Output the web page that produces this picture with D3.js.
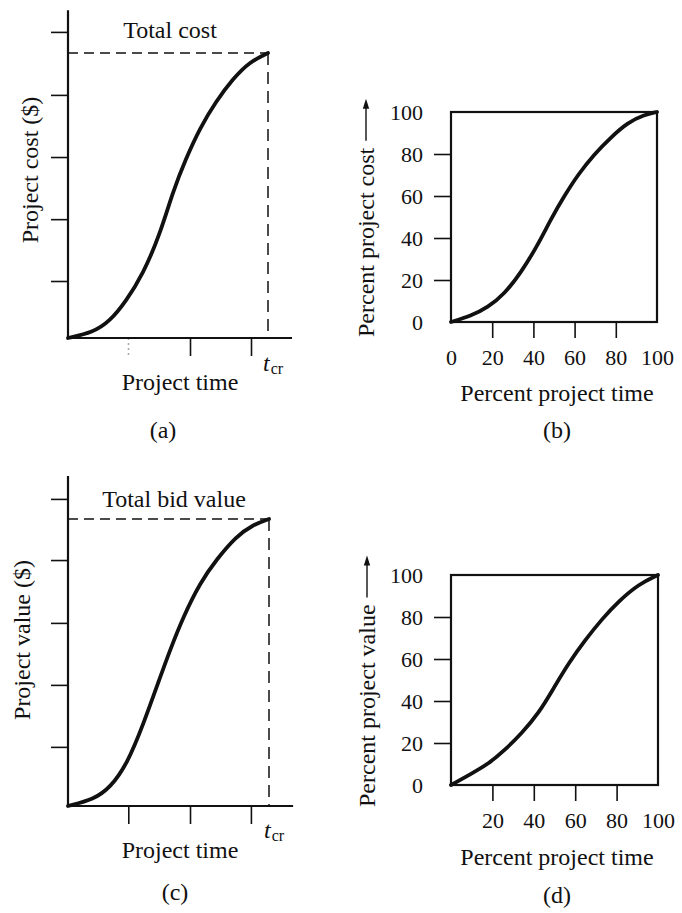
<!DOCTYPE html>
<html>
<head>
<meta charset="utf-8">
<script src="https://cdn.jsdelivr.net/npm/d3@7/dist/d3.min.js"></script>
<style>
  html, body { margin: 0; padding: 0; background: #fff; }
  svg { display: block; }
  text { font-family: 'Liberation Serif', 'Times New Roman', serif; fill: #111; font-size: 24px; }
  .tick text { font-size: 22px; }
</style>
</head>
<body>
<svg id="chart" width="682" height="913"></svg>
<script>
// (a) Cumulative project cost, in % of total cost, against % of completion time t_cr
const timeA = [0, 12.5, 20.8, 29, 37.5, 45.8, 52.5, 59, 66, 74, 82.5, 91, 100];
const costA = [0, 2, 5.8, 12.9, 22.5, 36, 51.5, 63, 73.7, 83, 91, 97, 100];
const costTicksA = [20, 41.7, 63.5, 85.3, 107.4];
const timeTicksA = [30, 61, 91.5];

// (b) Percent project cost against percent project time
const timeB = [0, 9.7, 17.8, 25.9, 34, 42, 48.5, 55, 61.5, 69.6, 77.7, 85.8, 93.9, 100];
const costB = [0, 2.9, 6.9, 13.3, 23.6, 36.4, 49, 60, 70, 80, 88, 95, 98.7, 100];

// (c) Cumulative project value, in % of total bid value, against % of t_cr
const timeC = [0, 12.9, 21, 29.4, 37.6, 45.9, 50.8, 57.4, 65.7, 74, 83.8, 92, 100];
const valueC = [0, 2.3, 6.4, 14.6, 28.7, 45, 54.4, 66, 77.8, 86, 94, 98, 100];
const valueTicksC = [20.6, 42.2, 63.8, 85.7, 107];
const timeTicksC = [30, 60.7, 91];

// (d) Percent project value against percent project time
const timeD = [0, 10, 18, 26, 34, 42.3, 50, 56.8, 64.8, 72.9, 81, 90.6, 100];
const valueD = [0, 5.5, 10, 16.6, 24.5, 34, 46.8, 58, 69, 79, 87.5, 95.6, 100];

// Percent axes
const pctTicksY = [0, 20, 40, 60, 80, 100];
const pctTicksXB = [0, 20, 40, 60, 80, 100];
const pctTicksXD = [20, 40, 60, 80, 100];

const svg = d3.select("#chart");
svg.append("rect").attr("width", 682).attr("height", 913).attr("fill", "#fff");

const INK = "#111";

function curvePath(g, x, y, xs, ys) {
  const line = d3.line().x(d => x(d[0])).y(d => y(d[1])).curve(d3.curveBasis);
  g.append("path")
    .attr("d", line(d3.zip(xs, ys)))
    .attr("fill", "none")
    .attr("stroke", INK)
    .attr("stroke-width", 3.8)
    .attr("stroke-linecap", "round");
}

function cleanAxis(sel) {
  sel.attr("font-size", null).attr("font-family", null);
  sel.select(".domain").remove();
  sel.selectAll(".tick line").attr("stroke", INK).attr("stroke-width", 1.6);
  sel.selectAll(".tick text").attr("fill", INK);
}

// Panels (a) and (c): dollar amount against time, ending at t_cr
function absolutePanel(o) {
  const g = svg.append("g");
  const x = d3.scaleLinear().domain([0, 100]).range(o.xRange);
  const y = d3.scaleLinear().domain([0, 100]).range(o.yRange);

  // y ticks (left of the axis, unlabeled)
  const ya = g.append("g").attr("transform", `translate(${x(0)},0)`)
    .call(d3.axisLeft(y).tickValues(o.yTicks).tickSize(17).tickFormat(""));
  cleanAxis(ya);

  // x ticks (below the axis, unlabeled)
  const xa = g.append("g").attr("transform", `translate(0,${y(0)})`)
    .call(d3.axisBottom(x).tickValues(o.xTicks).tickSize(18).tickFormat(""));
  cleanAxis(xa);
  if (o.faintFirstTick) {
    xa.selectAll(".tick line").filter((d, i) => i === 0)
      .attr("stroke", "#aaa").attr("stroke-dasharray", "2,3");
  }

  // axis lines
  g.append("line").attr("x1", x(0)).attr("x2", x(0)).attr("y1", y(0)).attr("y2", y(o.yMax))
    .attr("stroke", INK).attr("stroke-width", 2.2);
  g.append("line").attr("x1", x(0)).attr("x2", x(o.xMax)).attr("y1", y(0)).attr("y2", y(0))
    .attr("stroke", INK).attr("stroke-width", 2.2);

  // guides to the total and to t_cr
  g.append("line").attr("x1", x(0)).attr("x2", x(100)).attr("y1", y(100)).attr("y2", y(100))
    .attr("stroke", INK).attr("stroke-width", 1.5).attr("stroke-dasharray", "10,6");
  g.append("line").attr("x1", x(100)).attr("x2", x(100)).attr("y1", y(100)).attr("y2", y(0))
    .attr("stroke", INK).attr("stroke-width", 1.5).attr("stroke-dasharray", "12,7");

  curvePath(g, x, y, o.xs, o.ys);

  g.append("text").attr("x", o.totalPos[0]).attr("y", o.totalPos[1])
    .attr("text-anchor", "middle").text(o.totalLabel);

  const t = g.append("text").attr("x", o.tcrPos[0]).attr("y", o.tcrPos[1]);
  t.append("tspan").attr("font-style", "italic").text("t");
  t.append("tspan").attr("font-size", "16px").attr("dy", 3).attr("dx", 1).text("cr");

  g.append("text").attr("x", o.xLabelPos[0]).attr("y", o.xLabelPos[1])
    .attr("text-anchor", "middle").text("Project time");

  g.append("text")
    .attr("transform", `translate(${o.yLabelPos[0]},${o.yLabelPos[1]}) rotate(-90)`)
    .attr("text-anchor", "middle").text(o.yLabel);

  g.append("text").attr("x", o.capPos[0]).attr("y", o.capPos[1])
    .attr("text-anchor", "middle").text(o.caption);
}

// Panels (b) and (d): percent against percent, boxed
function percentPanel(o) {
  const g = svg.append("g");
  const x = d3.scaleLinear().domain([0, 100]).range(o.xRange);
  const y = d3.scaleLinear().domain([0, 100]).range(o.yRange);

  const ya = g.append("g").attr("transform", `translate(${x(0)},0)`)
    .call(d3.axisLeft(y).tickValues(pctTicksY).tickSize(17).tickPadding(11).tickFormat(d3.format("d")));
  cleanAxis(ya);
  ya.selectAll(".tick line").filter(d => d === 0 || d === 100).remove();
  ya.selectAll(".tick text").attr("dy", "0.34em");

  const xa = g.append("g").attr("transform", `translate(0,${y(0)})`)
    .call(d3.axisBottom(x).tickValues(o.xTicks).tickSize(16).tickFormat(d3.format("d")));
  cleanAxis(xa);
  xa.selectAll(".tick line").filter(d => d === 0 || d === 100).remove();
  xa.selectAll(".tick text").attr("y", o.xTickTextY).attr("dy", 0);

  g.append("rect")
    .attr("x", x(0)).attr("y", y(100))
    .attr("width", x(100) - x(0)).attr("height", y(0) - y(100))
    .attr("fill", "none").attr("stroke", INK).attr("stroke-width", 2.2);

  curvePath(g, x, y, o.xs, o.ys);

  g.append("text").attr("x", o.xLabelPos[0]).attr("y", o.xLabelPos[1])
    .attr("text-anchor", "middle").text("Percent project time");

  // rotated y label followed by an upward arrow
  const yl = g.append("text")
    .attr("transform", `translate(${o.yLabelPos[0]},${o.yLabelPos[1]}) rotate(-90)`)
    .attr("text-anchor", "start").text(o.yLabel);
  const len = yl.node().getComputedTextLength();
  const a0 = o.yLabelPos[1] - len - 7;
  const a1 = a0 - 42;
  const ax = o.yLabelPos[0] - 8;
  g.append("line").attr("x1", ax).attr("x2", ax).attr("y1", a0).attr("y2", a1 + 8)
    .attr("stroke", INK).attr("stroke-width", 1.4);
  g.append("path")
    .attr("d", `M${ax},${a1} L${ax - 3.2},${a1 + 10} L${ax + 3.2},${a1 + 10} Z`)
    .attr("fill", INK);

  g.append("text").attr("x", o.capPos[0]).attr("y", o.capPos[1])
    .attr("text-anchor", "middle").text(o.caption);
}

absolutePanel({
  xRange: [68, 268], yRange: [338, 53], xMax: 112, yMax: 115,
  xs: timeA, ys: costA, yTicks: costTicksA, xTicks: timeTicksA, faintFirstTick: true,
  totalLabel: "Total cost", totalPos: [170, 38],
  tcrPos: [263, 371], xLabelPos: [180, 390],
  yLabel: "Project cost ($)", yLabelPos: [38, 170],
  caption: "(a)", capPos: [163, 438]
});

percentPanel({
  xRange: [451, 657], yRange: [322, 112],
  xs: timeB, ys: costB, xTicks: pctTicksXB, xTickTextY: 43,
  xLabelPos: [557, 401],
  yLabel: "Percent project cost", yLabelPos: [374, 337],
  caption: "(b)", capPos: [557, 438]
});

absolutePanel({
  xRange: [68, 269], yRange: [806, 519], xMax: 112, yMax: 115,
  xs: timeC, ys: valueC, yTicks: valueTicksC, xTicks: timeTicksC, faintFirstTick: false,
  totalLabel: "Total bid value", totalPos: [174, 507],
  tcrPos: [264, 838], xLabelPos: [180, 858],
  yLabel: "Project value ($)", yLabelPos: [30, 640],
  caption: "(c)", capPos: [175, 900]
});

percentPanel({
  xRange: [451, 658], yRange: [785, 575],
  xs: timeD, ys: valueD, xTicks: pctTicksXD, xTickTextY: 43,
  xLabelPos: [557, 865],
  yLabel: "Percent project value", yLabelPos: [375, 807],
  caption: "(d)", capPos: [557, 903]
});
</script>
</body>
</html>
